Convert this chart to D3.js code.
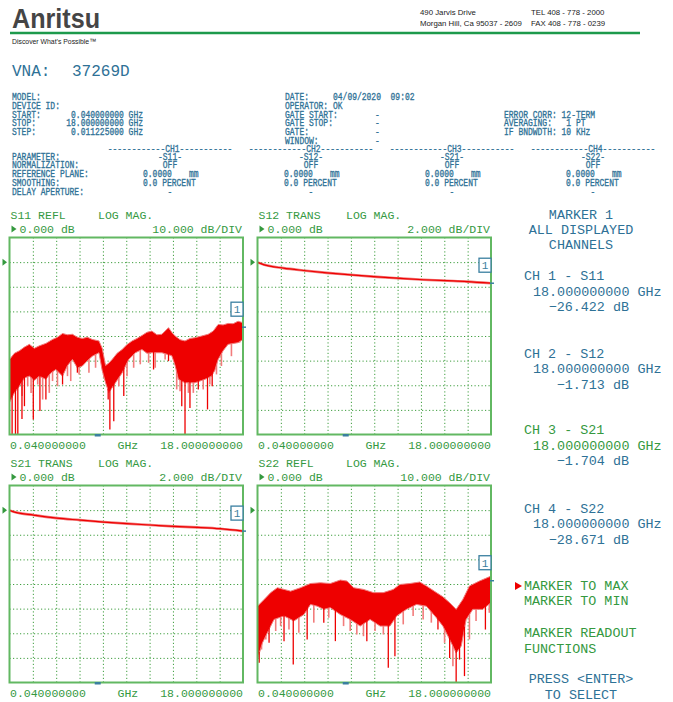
<!DOCTYPE html>
<html><head><meta charset="utf-8">
<script src="https://cdn.jsdelivr.net/npm/d3@7"></script>
<style>
html,body{margin:0;padding:0;background:#fff;}
svg{display:block;}
</style></head><body>
<svg id="c" width="673" height="702"></svg>
<script>
// ---------- measurement data ----------
const channels = ["S11", "S12", "S21", "S22"];
const channelTitles = ["S11 REFL", "S12 TRANS", "S21 TRANS", "S22 REFL"];
const dbPerDiv = [10, 2, 2, 10];
const refDb = [0, 0, 0, 0];
const startGHz = 0.04, stopGHz = 18;
const markerGHz = 18;
const markerDb = [-26.422, -1.713, -1.704, -28.671];

// S11: envelope of the dense 1601-point trace, deep nulls and shallower dips
const s11UpperFreq = [0.04,0.42,0.8,1.19,1.57,1.95,2.33,2.84,3.35,3.73,4.12,4.5,4.88,5.26,5.64,6.03,6.41,6.92,7.17,7.43,7.68,7.94,8.32,8.7,9.08,9.47,9.85,10.23,10.61,10.99,11.38,11.76,12.27,12.52,12.78,13.16,13.54,13.92,14.3,14.82,15.32,15.71,16.09,16.47,16.85,17.24,17.62,18.0];
const s11Upper     = [-39.5,-37,-36,-34.5,-33.4,-35,-34,-33,-31.4,-30.5,-29,-29.5,-29.3,-30.5,-31,-30.5,-31.4,-32,-35,-42,-41,-39.5,-37,-35.5,-33.5,-32,-31,-29.8,-28.5,-28,-29.5,-29.3,-26.6,-28.5,-30,-31.5,-32,-31,-30.7,-30,-29.3,-28,-25.3,-25.5,-24.9,-25,-24,-24.6];
const s11LowerFreq = [0.04,0.42,0.8,1.19,1.57,1.95,2.33,2.84,3.22,3.61,4.12,4.5,4.88,5.26,5.64,6.03,6.41,6.92,7.17,7.43,7.68,8.19,8.7,9.21,9.72,10.23,10.61,10.99,11.76,12.52,12.78,13.03,13.54,14.3,15.07,15.58,15.83,16.09,16.47,16.85,17.62,18.0];
const s11Lower     = [-57,-53,-50.4,-47,-46.3,-48,-46.3,-47.6,-45,-43.6,-46.3,-42,-39.5,-43,-42.2,-40,-38.2,-36.8,-44,-49,-53,-49,-45,-39.5,-36.8,-35.5,-37,-36.8,-36.8,-38,-42,-47.6,-49,-49,-47.6,-46.3,-44,-39.5,-36,-33.4,-32.7,-31.4];
const s11NullFreq = [0.24,0.5,0.68,1.0,1.19,1.87,2.38,2.84,4.12,5.26,7.63,7.76,8.06,8.83,11.12,12.27,13.29,13.54,13.92,14.56,15.27,15.63,16.6];
const s11NullDb   = [-70,-70,-70,-63.7,-58.5,-63.9,-60.5,-55.8,-49.7,-44.9,-55.8,-68,-64.6,-54.4,-43.6,-40.2,-58.5,-70,-59.2,-51.7,-59.8,-50.4,-34.1];
const s11DipFreq = [0.55,1.01,1.44,1.7,2.21,2.59,3.1,3.35,3.73,4.5,4.75,5.39,6.15,6.66,7.3,8.45,9.08,9.59,10.1,10.74,11.25,12.01,12.9,13.16,13.8,14.18,14.94,15.45,15.96,16.34,17.11,17.74];
const s11DipDb   = [-51.7,-54.4,-50.4,-53.1,-49.7,-55.8,-53.1,-48.3,-50.4,-46.3,-48.3,-45.6,-44.9,-42.9,-47,-50.4,-46.3,-42.9,-41.5,-40.9,-42.9,-39.5,-51.7,-52.4,-53.1,-53.1,-51.7,-49.7,-45.6,-42.2,-38.2,-32.7];

// S22
const s22UpperFreq = [0.04,0.55,1.06,1.57,2.08,2.59,3.35,4.12,4.88,5.64,6.41,6.92,7.43,8.19,8.96,9.72,10.48,10.99,11.76,12.52,13.03,13.8,14.3,14.82,15.32,15.83,16.34,17.11,18.0];
const s22Upper     = [-39,-36.3,-33.5,-31.5,-32.2,-32.9,-31.5,-29.8,-29.5,-29.8,-28.4,-28.8,-31.5,-32.2,-33.5,-33.5,-32.2,-30.2,-29.8,-29.2,-30.8,-33.5,-35.2,-37.6,-40.3,-36.3,-30.8,-28.8,-26.8];
const s22LowerFreq = [0.04,0.42,0.8,1.31,2.08,2.84,3.61,4.12,4.63,5.14,5.64,6.41,7.17,7.94,8.7,9.47,10.23,10.74,11.5,12.27,13.03,13.8,14.3,14.82,15.32,15.71,16.09,16.6,17.36,18.0];
const s22Lower     = [-60.6,-53.9,-49.8,-44.4,-43,-45,-42.4,-38.3,-39,-40.3,-39.6,-42.4,-44.4,-47.1,-44.4,-47.1,-47.1,-43,-40.3,-38.3,-39,-43.7,-47.1,-52.5,-58,-55.2,-44.4,-40.3,-40.3,-37.6];
const s22NullFreq = [0.17,0.93,2.08,2.79,3.86,5.14,6.03,8.45,10.1,10.61,13.92,14.82,15.32,15.58,15.96,17.57];
const s22NullDb   = [-62,-53.9,-53.2,-62.7,-52.5,-45.7,-53.2,-53.2,-64,-59.3,-48.5,-60,-70,-60.7,-67.4,-48.5];
const s22DipFreq = [0.35,0.68,1.44,1.82,2.46,3.22,4.37,5.52,6.66,7.17,7.68,8.19,9.08,9.72,11.25,12.01,12.78,13.41,14.43,15.07,16.34,16.85,17.87];
const s22DipDb   = [-56.6,-52.5,-49.1,-47.1,-48.5,-49.8,-45.7,-43.7,-47.1,-49.1,-50.5,-51.2,-49.1,-50.5,-46.4,-43,-44.4,-45.7,-53.9,-63.4,-52.5,-45,-41.7];

// S12 / S21 transmission
const s12Freq = [0.04,0.5,2.04,3.58,5.38,7.43,9.23,11.02,12.82,14.62,16.15,18.0];
const s12Db   = [-0.02,-0.2,-0.49,-0.68,-0.87,-1.05,-1.2,-1.32,-1.43,-1.51,-1.58,-1.713];
const s21Freq = [0.04,0.5,1.89,3.68,5.48,7.28,9.07,10.87,12.66,14.46,16.26,18.0];
const s21Db   = [-0.02,-0.18,-0.4,-0.65,-0.81,-0.97,-1.1,-1.21,-1.32,-1.4,-1.51,-1.704];

// ---------- styling ----------
const GREEN = "#35993f", BLUE = "#2e7196", GRID = "#3f9e3f", FRAME = "#62b862";
const RED = "#ee0000", PINK = "#f27c7c", TEAL = "#3a7fa0";
const MONO = "'Liberation Mono', 'DejaVu Sans Mono', monospace";
const SANS = "'Liberation Sans', Arial, sans-serif";

const svg = d3.select("#c");

// ---------- letterhead ----------
svg.append("text").attr("x", 12).attr("y", 28)
  .attr("font-family", SANS).attr("font-weight", "bold")
  .attr("font-size", 28).attr("fill", "#454545")
  .attr("textLength", 88).attr("lengthAdjust", "spacingAndGlyphs").text("Anritsu");
svg.append("line").attr("x1", 10).attr("x2", 640).attr("y1", 33).attr("y2", 33)
  .attr("stroke", "#1d9a4c").attr("stroke-width", 2.5);
svg.append("text").attr("x", 12).attr("y", 44).attr("font-family", SANS).attr("font-size", 8)
  .attr("fill", "#222").attr("textLength", 84).attr("lengthAdjust", "spacingAndGlyphs")
  .text("Discover What\u2019s Possible\u2122");
const addr = [[420, 15, "490 Jarvis Drive"], [531, 15, "TEL  408 - 778 - 2000"],
              [420, 26, "Morgan Hill, Ca 95037 - 2609"], [531, 26, "FAX 408 - 778 - 0239"]];
addr.forEach(a => svg.append("text").attr("x", a[0]).attr("y", a[1])
  .attr("font-family", SANS).attr("font-size", 7.8).attr("fill", "#222").text(a[2]));

// ---------- instrument header ----------
svg.append("text").attr("x", 12).attr("y", 76).attr("font-family", MONO)
  .attr("font-size", 16).attr("fill", BLUE).text("VNA:");
svg.append("text").attr("x", 72).attr("y", 76).attr("font-family", MONO)
  .attr("font-size", 16).attr("fill", BLUE).text("37269D");

function small(x, y, txt, anchor) {
  svg.append("text").attr("transform", `translate(${x},${y}) scale(0.8,1)`)
    .attr("font-family", MONO).attr("font-size", 10).attr("fill", BLUE)
    .attr("stroke", BLUE).attr("stroke-width", 0.3)
    .attr("text-anchor", anchor || "start").attr("xml:space", "preserve").text(txt);
}
const rowY = [100, 108.8, 117.5, 126.2, 134.9, 143.6];
["MODEL:", "DEVICE ID:", "START:", "STOP:", "STEP:"].forEach((t, i) => small(12, rowY[i], t));
small(143, rowY[2], "0.040000000 GHz", "end");
small(143, rowY[3], "18.000000000 GHz", "end");
small(143, rowY[4], "0.011225000 GHz", "end");
["DATE:", "OPERATOR:", "GATE START:", "GATE STOP:", "GATE:", "WINDOW:"].forEach((t, i) => small(285, rowY[i], t));
small(333, rowY[0], "04/09/2020  09:02");
small(333, rowY[1], "OK");
[2, 3, 4, 5].forEach(i => small(375, rowY[i], "-"));
small(504, rowY[2], "ERROR CORR: 12-TERM");
small(504, rowY[3], "AVERAGING:   1 PT");
small(504, rowY[4], "IF BNDWDTH: 10 KHz");

const paramY = [159.6, 168.3, 177, 185.8, 194.8];
["PARAMETER:", "NORMALIZATION:", "REFERENCE PLANE:", "SMOOTHING:", "DELAY APERTURE:"]
  .forEach((t, i) => small(12, paramY[i], t));
const chCenters = [170, 311, 452, 593];
channels.forEach((ch, i) => {
  const c = chCenters[i];
  small(c, 152, `------------CH${i + 1}-----------`, "middle");
  small(c, paramY[0], `-${ch}-`, "middle");
  small(c, paramY[1], "OFF", "middle");
  small(c - 27, paramY[2], "0.0000");
  small(c + 19, paramY[2], "mm");
  small(c - 27, paramY[3], "0.0 PERCENT");
  small(c, paramY[4], "-", "middle");
});

// ---------- plot panels ----------
const panelX = [9.5, 257.5], panelW = 233.5;
const panelY = [237.5, 485.5], panelH = 197;
const traces = [
  { upF: s11UpperFreq, up: s11Upper, loF: s11LowerFreq, lo: s11Lower,
    nullF: s11NullFreq, nullV: s11NullDb, dipF: s11DipFreq, dipV: s11DipDb },
  { f: s12Freq, v: s12Db },
  { f: s21Freq, v: s21Db },
  { upF: s22UpperFreq, up: s22Upper, loF: s22LowerFreq, lo: s22Lower,
    nullF: s22NullFreq, nullV: s22NullDb, dipF: s22DipFreq, dipV: s22DipDb }
];

function plainText(g, x, y, txt, anchor, fill, size) {
  g.append("text").attr("x", x).attr("y", y).attr("font-family", MONO)
    .attr("font-size", size || 11.5).attr("fill", fill || GREEN)
    .attr("text-anchor", anchor || "start").attr("xml:space", "preserve").text(txt);
}

channels.forEach((ch, i) => {
  const x0 = panelX[i % 2], y0 = panelY[Math.floor(i / 2)];
  const x1 = x0 + panelW, y1 = y0 + panelH;
  const g = svg.append("g");

  const x = d3.scaleLinear().domain([startGHz, stopGHz]).range([x0, x1]);
  // reference value sits one division below the top, 8 divisions tall
  const y = d3.scaleLinear().domain([refDb[i] + dbPerDiv[i], refDb[i] - 7 * dbPerDiv[i]]).range([y0, y1]);
  const divX = d3.scaleLinear().domain([0, 10]).range([x0, x1]);
  const divY = d3.scaleLinear().domain([0, 8]).range([y0, y1]);

  // dotted graticule
  const gx = g.append("g").attr("transform", `translate(0,${y1})`)
    .call(d3.axisBottom(divX).tickValues(d3.range(1, 10)).tickSize(-panelH).tickFormat(""));
  const gy = g.append("g").attr("transform", `translate(${x0},0)`)
    .call(d3.axisLeft(divY).tickValues(d3.range(1, 8)).tickSize(-panelW).tickFormat(""));
  [gx, gy].forEach(a => {
    a.select(".domain").remove();
    a.selectAll("line").attr("stroke", GRID).attr("stroke-width", 1).attr("stroke-dasharray", "1.2,2.3");
  });

  // trace
  const t = traces[i];
  const tg = g.append("g");
  if (t.up) {
    const lowerAt = d3.scaleLinear().domain(t.loF).range(t.lo);
    const spikes = (fs, vs, cls, color, w) => tg.selectAll("line." + cls).data(fs).join("line").attr("class", cls)
      .attr("x1", f => x(f)).attr("x2", f => x(f))
      .attr("y1", f => y(lowerAt(f)) - 2).attr("y2", (f, k) => Math.min(y(vs[k]), y1))
      .attr("stroke", color).attr("stroke-width", w);
    spikes(t.dipF, t.dipV, "dip", PINK, 1.6);
    const outline = t.upF.map((f, k) => [x(f), y(t.up[k])])
      .concat(t.loF.map((f, k) => [x(f), y(t.lo[k])]).reverse());
    tg.append("path").attr("d", d3.line()(outline) + "Z")
      .attr("fill", RED).attr("stroke", PINK).attr("stroke-width", 1).attr("stroke-linejoin", "bevel");
    spikes(t.nullF, t.nullV, "null", RED, 1.3);
  } else {
    const ln = d3.line().x((f) => x(f)).y((f, k) => y(t.v[k])).curve(d3.curveMonotoneX);
    tg.append("path").attr("d", ln(t.f)).attr("fill", "none").attr("stroke", PINK).attr("stroke-width", 2.6);
    tg.append("path").attr("d", ln(t.f)).attr("fill", "none").attr("stroke", RED).attr("stroke-width", 1.2);
  }

  // frame
  g.append("rect").attr("x", x0).attr("y", y0).attr("width", panelW).attr("height", panelH)
    .attr("fill", "none").attr("stroke", FRAME).attr("stroke-width", 2);

  // reference arrow
  const ry = y(refDb[i]);
  g.append("path").attr("d", `M${x0 - 7},${ry - 3.5}L${x0 - 2.5},${ry}L${x0 - 7},${ry + 3.5}Z`).attr("fill", GREEN);

  // marker 1
  const my = y(markerDb[i]);
  g.append("line").attr("x1", x(markerGHz) - 1).attr("x2", x(markerGHz) + 3).attr("y1", my).attr("y2", my)
    .attr("stroke", TEAL).attr("stroke-width", 1.5);
  g.append("rect").attr("x", x1 - 12).attr("y", my - 25).attr("width", 12).attr("height", 14)
    .attr("fill", "#fff").attr("stroke", TEAL).attr("stroke-width", 1.3);
  plainText(g, x1 - 6, my - 14, "1", "middle", TEAL, 11);
  g.append("rect").attr("x", x0 + 0.365 * panelW).attr("y", y1 - 0.5).attr("width", 6).attr("height", 2.5).attr("fill", TEAL);

  // labels
  plainText(g, x0 + 1, y0 - 19, channelTitles[i]);
  plainText(g, x0 + 88.5, y0 - 19, "LOG MAG.");
  g.append("path").attr("d", `M${x0 + 2},${y0 - 12}L${x0 + 7},${y0 - 8.5}L${x0 + 2},${y0 - 5}Z`).attr("fill", GREEN);
  plainText(g, x0 + 10, y0 - 4.5, d3.format(".3f")(refDb[i]) + " dB");
  plainText(g, x1 - 1, y0 - 4.5, d3.format(".3f")(dbPerDiv[i]) + " dB/DIV", "end");
  plainText(g, x0 + 0.5, y1 + 14, d3.format(".9f")(startGHz));
  plainText(g, x0 + 108, y1 + 14, "GHz");
  plainText(g, x1, y1 + 14, d3.format(".9f")(stopGHz), "end");
});

// ---------- marker readout menu ----------
const mx = 581, FS = 13.4;
plainText(svg, mx, 218.5, "MARKER 1", "middle", BLUE, FS);
plainText(svg, mx, 233.5, "ALL DISPLAYED", "middle", BLUE, FS);
plainText(svg, mx, 249.3, "CHANNELS", "middle", BLUE, FS);
const readY = [280.3, 357.5, 434.3, 512.5];
channels.forEach((ch, i) => {
  const c1 = i === 2 ? GREEN : BLUE;
  plainText(svg, 524, readY[i], `CH ${i + 1} - ${ch}`, "start", c1, FS);
  plainText(svg, 533, readY[i] + 15.5, d3.format(".9f")(markerGHz) + " GHz", "start", c1, FS);
  plainText(svg, 629, readY[i] + 31, d3.format(".3f")(markerDb[i]) + " dB", "end", BLUE, FS);
});
svg.append("path").attr("d", "M515,582L522,586L515,590Z").attr("fill", RED);
plainText(svg, 524, 590.3, "MARKER TO MAX", "start", GREEN, FS);
plainText(svg, 524, 605.3, "MARKER TO MIN", "start", GREEN, FS);
plainText(svg, 524, 636.5, "MARKER READOUT", "start", GREEN, FS);
plainText(svg, 524, 652.5, "FUNCTIONS", "start", GREEN, FS);
plainText(svg, mx, 683.3, "PRESS <ENTER>", "middle", BLUE, FS);
plainText(svg, mx, 698.5, "TO SELECT", "middle", BLUE, FS);
</script>
</body></html>
